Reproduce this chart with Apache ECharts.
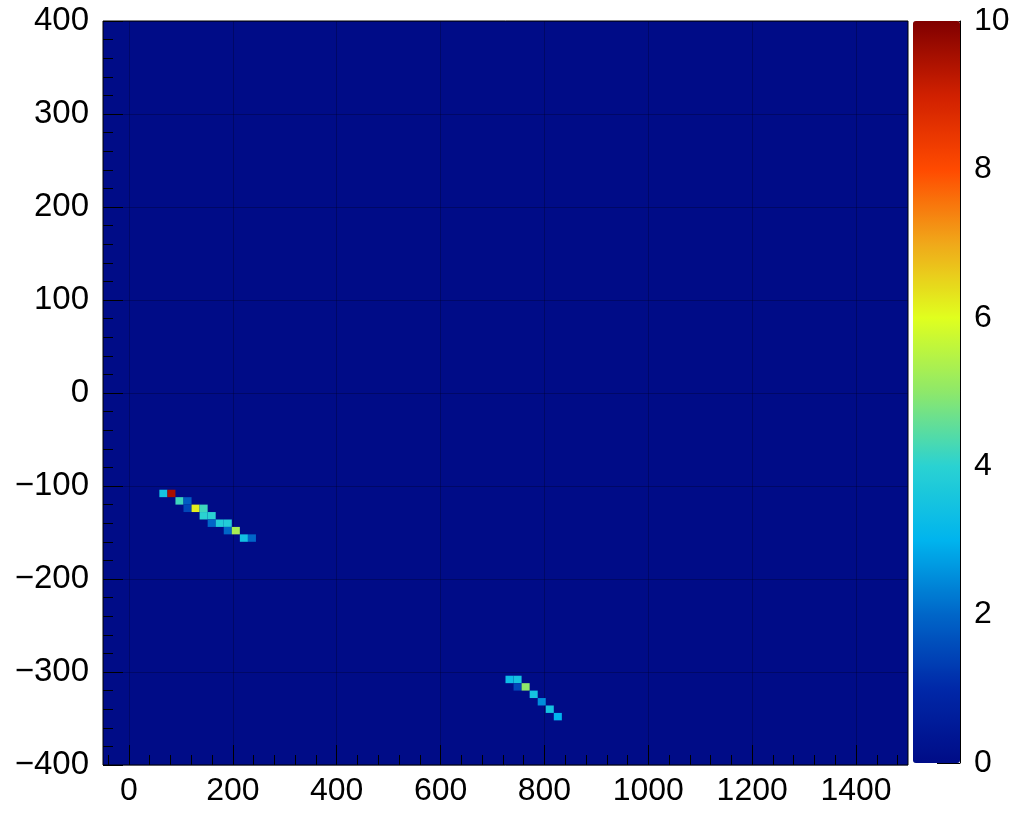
<!DOCTYPE html>
<html><head><meta charset="utf-8">
<script src="https://cdn.jsdelivr.net/npm/echarts@6/dist/echarts.min.js"></script>
<style>html,body{margin:0;padding:0;background:#fff}#c{width:1013px;height:817px}</style>
</head><body><div id="c"></div>
<script>
// bin geometry of the 2D histogram
const xRange = [-50, 1500];
const yRange = [-400, 400];
const xBinWidth = 15.5;
const yBinWidth = 8;

// non-empty cells (bin centres) and contents
const cellX = [66.25, 81.75, 97.25, 112.75, 112.75, 128.25, 143.75, 143.75, 159.25, 159.25, 174.75, 190.25, 190.25, 205.75, 221.25, 236.75,
               732.75, 748.25, 748.25, 763.75, 779.25, 794.75, 810.25, 825.75];
const cellY = [-108, -108, -116, -116, -124, -124, -124, -132, -132, -140, -140, -140, -148, -148, -156, -156,
               -308, -308, -316, -316, -324, -332, -340, -348];
const cellV = [3.5, 9.5, 4.2, 1.8, 1.5, 6.2, 4.2, 4.0, 4.0, 2.0, 3.8, 3.8, 2.0, 5.3, 3.4, 2.0,
               3.3, 3.5, 1.5, 5.0, 3.5, 2.5, 3.5, 3.0];

// tick labels
const xTickLabels = [0, 200, 400, 600, 800, 1000, 1200, 1400];
const yTickLabels = [-400, -300, -200, -100, 0, 100, 200, 300, 400];
const zTickLabels = [0, 2, 4, 6, 8, 10];

const palette = ['#000c87', '#0028a8', '#0066c8', '#00b4ee', '#2ad2d2', '#8ee86a',
                 '#e0ff1e', '#f0a81a', '#ff4a00', '#d02000', '#800000'];

const data = cellX.map((x, i) => [x, cellY[i], cellV[i]]);
const xMinor = [];
for (let v = Math.ceil(xRange[0] / 40) * 40; v <= xRange[1]; v += 40) xMinor.push(v);

const fmt = v => (v < 0 ? '\u2212' + Math.abs(v) : String(v));
const font = 'Liberation Sans, Arial, Helvetica, sans-serif';
const gridLine = {show: true, lineStyle: {color: 'rgba(0,0,30,0.3)', width: 1}};

const chart = echarts.init(document.getElementById('c'), null, {renderer: 'canvas'});
chart.setOption({
  animation: false,
  backgroundColor: '#fff',
  grid: [
    {left: 103, top: 21, width: 805, height: 744, show: true, backgroundColor: palette[0], borderColor: '#000', borderWidth: 1},
    {left: 913, top: 21, width: 47, height: 742, show: false}
  ],
  xAxis: [
    {type: 'value', gridIndex: 0, min: xRange[0], max: xRange[1], position: 'bottom',
     axisLine: {show: false, onZero: false},
     axisTick: {show: true, inside: true, length: 20, customValues: xTickLabels, lineStyle: {color: '#000', width: 1}},
     axisLabel: {show: true, customValues: xTickLabels, formatter: fmt, fontSize: 32, color: '#000', fontFamily: font, margin: 10},
     splitLine: gridLine},
    {type: 'value', gridIndex: 0, min: xRange[0], max: xRange[1], position: 'bottom',
     axisLine: {show: false, onZero: false},
     axisTick: {show: true, inside: true, length: 10, customValues: xMinor, lineStyle: {color: '#000', width: 1}},
     axisLabel: {show: false}, splitLine: {show: false}},
    {type: 'value', gridIndex: 1, min: 0, max: 1, show: false, axisLine: {onZero: false}}
  ],
  yAxis: [
    {type: 'value', gridIndex: 0, min: yRange[0], max: yRange[1], interval: 100, position: 'left',
     axisLine: {show: false, onZero: false},
     axisTick: {show: true, inside: true, length: 20, lineStyle: {color: '#000'}},
     minorTick: {show: true, splitNumber: 5, length: 10, lineStyle: {color: '#000'}},
     axisLabel: {formatter: fmt, fontSize: 33, color: '#000', fontFamily: font, margin: 14},
     splitLine: gridLine},
    {type: 'value', gridIndex: 1, min: 0, max: 10, interval: 2, position: 'right',
     axisLine: {show: true, onZero: false, lineStyle: {color: '#000', width: 1}},
     axisTick: {show: true, inside: true, length: 23, lineStyle: {color: '#000'}},
     axisLabel: {formatter: fmt, fontSize: 32, color: '#000', fontFamily: font, margin: 14},
     splitLine: {show: false}}
  ],
  visualMap: {
    type: 'continuous', min: 0, max: 10, dimension: 2, seriesIndex: 0,
    left: 913, top: 21, itemWidth: 47, itemHeight: 742, padding: 0,
    calculable: false, showLabel: false, text: null, hoverLink: false,
    inRange: {color: palette}
  },
  series: [{
    type: 'custom', xAxisIndex: 0, yAxisIndex: 0, coordinateSystem: 'cartesian2d',
    encode: {x: 0, y: 1},
    data: data,
    clip: true,
    renderItem: function (params, api) {
      const x = api.value(0), y = api.value(1);
      const p0 = api.coord([x - xBinWidth / 2, y + yBinWidth / 2]);
      const p1 = api.coord([x + xBinWidth / 2, y - yBinWidth / 2]);
      return {type: 'rect', shape: {x: p0[0], y: p0[1], width: p1[0] - p0[0], height: p1[1] - p0[1]},
              style: {fill: api.visual('color')}};
    }
  }]
});
</script></body></html>
